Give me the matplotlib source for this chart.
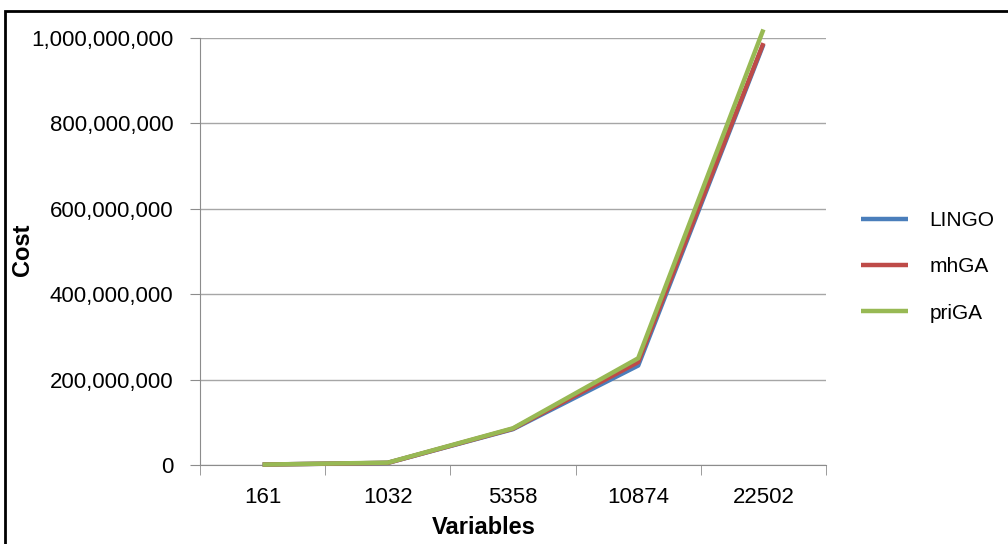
import matplotlib.pyplot as plt
from matplotlib.patches import Rectangle
from matplotlib.ticker import FuncFormatter, FixedLocator
import numpy as np

plt.rcParams['font.family'] = ['Liberation Sans', 'DejaVu Sans']

# problem sizes and cost of the solution found by each method
variables = ['161', '1032', '5358', '10874', '22502']
lingo = [1.0e6, 5.0e6, 84e6, 233e6, 985e6]
mhga = [1.0e6, 5.0e6, 85e6, 241e6, 988e6]
priga = [1.0e6, 5.5e6, 86e6, 250e6, 1020e6]

series = [('LINGO', lingo, '#4A7EBB'),
          ('mhGA', mhga, '#BE4B48'),
          ('priGA', priga, '#98B954')]

fig = plt.figure(figsize=(10.08, 5.44), dpi=100)
ax = fig.add_axes([200 / 1008, 1 - 465 / 544, 626 / 1008, 427 / 544])

x = np.arange(len(variables))
for name, vals, col in series:
    ax.plot(x, vals, color=col, linewidth=3.2, label=name, clip_on=False,
            solid_capstyle='butt', zorder=3)

ax.set_xlim(-0.5, len(variables) - 0.5)
ax.set_ylim(0, 1e9)
ax.set_yticks(np.arange(0, 1.01e9, 2e8))
ax.yaxis.set_major_formatter(FuncFormatter(lambda v, p: f'{int(v):,}'))
ax.grid(axis='y', color='#a6a6a6', linewidth=1.0)
ax.set_axisbelow(True)

# category labels centred, tick marks between categories
ax.set_xticks(x)
ax.set_xticklabels(variables)
ax.xaxis.set_minor_locator(FixedLocator(np.arange(-0.5, len(variables), 1.0)))
ax.tick_params(axis='x', which='major', length=0, labelsize=16, pad=16)
ax.tick_params(axis='x', which='minor', length=7, color='#8c8c8c', direction='out')
ax.tick_params(axis='y', length=7, color='#8c8c8c', labelsize=16, pad=12)

for s in ['top', 'right']:
    ax.spines[s].set_visible(False)
for s in ['left', 'bottom']:
    ax.spines[s].set_color('#8c8c8c')

fig.text(484 / 1008, 1 - 527 / 544, 'Variables', fontsize=17, fontweight='bold',
         ha='center', va='center')
fig.text(22 / 1008, 1 - 250 / 544, 'Cost', fontsize=17, fontweight='bold',
         ha='center', va='center', rotation=90)

leg = fig.legend(loc='center left', bbox_to_anchor=(842 / 1008, 1 - 267 / 544),
                 frameon=False, fontsize=15, handlelength=2.25, labelspacing=1.3,
                 handletextpad=1.05)
for line in leg.get_lines():
    line.set_linewidth(3.2)

# outer chart frame
fig.patches.append(Rectangle((5 / 1008, -0.1), 1.2, (1 - 11 / 544) + 0.1,
                             transform=fig.transFigure, fill=False,
                             edgecolor='black', linewidth=2.0))

fig.savefig('out.png', dpi=100)
